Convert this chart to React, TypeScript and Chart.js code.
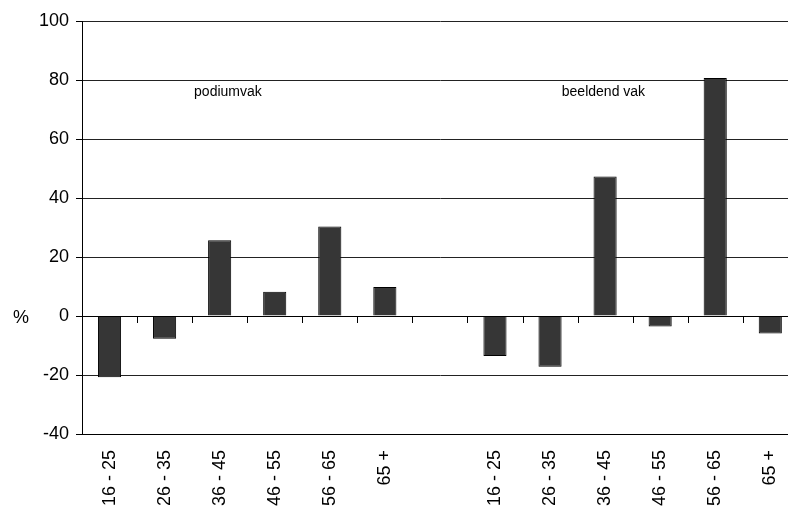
import React, { useEffect, useRef } from "react";
import { Chart, registerables } from "chart.js";

Chart.register(...registerables);

const categories = [
  "16 - 25", "26 - 35", "36 - 45", "46 - 55", "56 - 65", "65 +",
  "",
  "16 - 25", "26 - 35", "36 - 45", "46 - 55", "56 - 65", "65 +",
];
const values: (number | null)[] = [
  -20.8, -7.7, 25.7, 8.2, 30.3, 9.8,
  null,
  -13.6, -17.2, 47.3, -3.6, 80.7, -5.9,
];
const yTicks = [-40, -20, 0, 20, 40, 60, 80, 100];
const groupLabels = ["podiumvak", "beeldend vak"];
const groupLabelX = [2.15, 8.97];
const groupLabelY = 76;
const axisTitle = "%";

const FONT = "'Liberation Sans', Arial, sans-serif";

const extrasPlugin = {
  id: "extras",
  afterDatasetsDraw(chart: any) {
    const { ctx } = chart;
    const xs = chart.scales.x;
    const ys = chart.scales.y;
    const y0 = ys.getPixelForValue(0);
    ctx.save();
    ctx.strokeStyle = "#000";
    ctx.lineWidth = 1;
    ctx.beginPath();
    ctx.moveTo(chart.chartArea.left, Math.round(y0) + 0.5);
    ctx.lineTo(chart.chartArea.right, Math.round(y0) + 0.5);
    for (let i = 1; i <= categories.length; i++) {
      const x = Math.round(xs.getPixelForValue(i - 0.5)) + 0.5;
      ctx.moveTo(x, Math.round(y0));
      ctx.lineTo(x, Math.round(y0) + 7);
    }
    // left-axis tick marks
    yTicks.forEach((v) => {
      const y = Math.round(ys.getPixelForValue(v)) + 0.5;
      ctx.moveTo(chart.chartArea.left - 6, y);
      ctx.lineTo(chart.chartArea.left, y);
    });
    ctx.stroke();

    ctx.fillStyle = "#000";
    ctx.font = `14px ${FONT}`;
    ctx.textAlign = "center";
    ctx.textBaseline = "middle";
    groupLabels.forEach((t, i) => {
      ctx.fillText(t, xs.getPixelForValue(groupLabelX[i]), ys.getPixelForValue(groupLabelY));
    });

    ctx.font = `18px ${FONT}`;
    ctx.fillText(axisTitle, 21, y0 + 2);
    ctx.restore();
  },
};

export default function App() {
  const ref = useRef<HTMLCanvasElement>(null);
  useEffect(() => {
    if (!ref.current) return;
    const chart = new Chart(ref.current, {
      type: "bar",
      data: {
        labels: categories,
        datasets: [
          {
            data: values as any,
            backgroundColor: "#363636",
            borderColor: "#000",
            borderWidth: 1,
            categoryPercentage: 1,
            barPercentage: 0.42,
          },
        ],
      },
      options: {
        animation: false,
        responsive: false,
        layout: { padding: { top: 21, right: 3, left: 0, bottom: 0 } },
        plugins: { legend: { display: false }, tooltip: { enabled: false } },
        scales: {
          x: {
            grid: { display: false, drawTicks: false },
            border: { display: true, color: "#000", width: 1 },
            ticks: {
              minRotation: 90,
              maxRotation: 90,
              autoSkip: false,
              padding: 16,
              color: "#000",
              font: { family: FONT, size: 18 },
            },
            afterFit: (s: any) => {
              s.height = 74;
            },
          },
          y: {
            min: -40,
            max: 100,
            afterBuildTicks: (s: any) => {
              s.ticks = yTicks.map((v) => ({ value: v }));
            },
            grid: { color: "#222", lineWidth: 1, tickLength: 6, tickColor: "#000" },
            border: { display: true, color: "#000", width: 1 },
            ticks: {
              padding: 7,
              color: "#000",
              font: { family: FONT, size: 18 },
            },
            afterFit: (s: any) => {
              s.width = 82;
            },
          },
        },
      },
      plugins: [extrasPlugin],
    });
    return () => chart.destroy();
  }, []);
  return (
    <div style={{ position: "fixed", left: 0, top: 0, width: 788, height: 508, overflow: "hidden", background: "#fff" }}>
      <canvas ref={ref} width={808} height={508} style={{ display: "block" }} />
    </div>
  );
}
